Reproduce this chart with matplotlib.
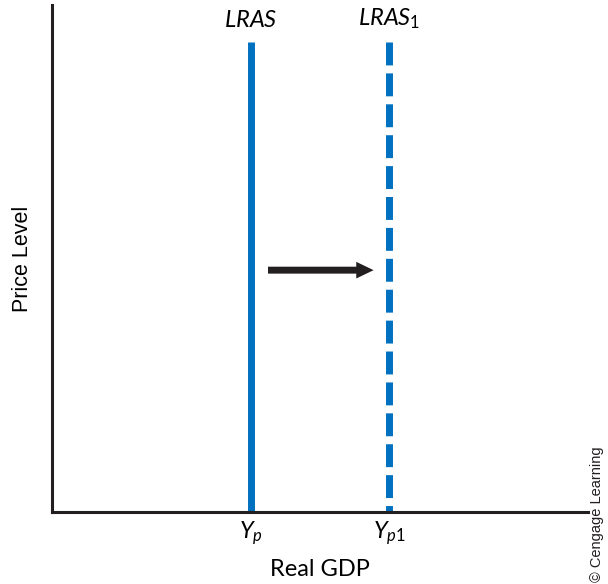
import matplotlib
matplotlib.use("Agg")
import matplotlib.pyplot as plt

# Data
curve_labels = ["LRAS", "LRAS_1"]
curve_x = [3.71, 6.29]          # potential output positions
curve_top = 9.27
tick_labels = [r"$Y_p$", r"$Y_{p\mathrm{1}}$"]
arrow_start = 4.03
arrow_end = 6.0
arrow_y = 4.77

plt.rcParams["mathtext.fontset"] = "custom"
plt.rcParams["mathtext.rm"] = "Lato"
plt.rcParams["mathtext.it"] = "Lato:italic"
plt.rcParams["font.family"] = ["Lato", "DejaVu Sans"]

blue = "#0070C0"
dark = "#231F20"

fig = plt.figure(figsize=(6.08, 5.84), dpi=100)
ax = fig.add_axes([52/608, (584-512)/584, (588-52)/608, (512-5)/584])
ax.set_xlim(0, 10)
ax.set_ylim(0, 10)

for s in ["top", "right"]:
    ax.spines[s].set_visible(False)
for s in ["left", "bottom"]:
    ax.spines[s].set_linewidth(2.2)
    ax.spines[s].set_color(dark)

# solid LRAS
ax.plot([curve_x[0], curve_x[0]], [curve_top, 0], color=blue, lw=5.0,
        solid_capstyle="butt", clip_on=False)
# dashed LRAS1
ax.plot([curve_x[1], curve_x[1]], [curve_top, 0], color=blue, lw=5.0,
        dashes=(3.3, 1.15), dash_capstyle="butt", clip_on=False)

ax.text(curve_x[0], 9.48, r"$LRAS$", ha="center", va="bottom", fontsize=17)
ax.text(curve_x[1], 9.48, r"$LRAS_{\mathrm{1}}$", ha="center", va="bottom", fontsize=17)

ax.annotate("", xy=(arrow_end, arrow_y), xytext=(arrow_start, arrow_y),
            arrowprops=dict(arrowstyle="simple,head_length=1.25,head_width=1.2,tail_width=0.5",
                            mutation_scale=10, color=dark, lw=0, shrinkA=0, shrinkB=0))

ax.set_xticks(curve_x)
ax.set_xticklabels(tick_labels, fontsize=17)
ax.tick_params(axis="x", length=0, pad=5)
ax.set_yticks([])

ax.set_xlabel("Real GDP", fontsize=17, labelpad=9)
ax.set_ylabel("Price Level", fontsize=15.5, family="Liberation Sans", labelpad=14)

fig.text(597/608, 1 - 514/584, "© Cengage Learning", rotation=90, ha="center",
         va="center", fontsize=10.5, family="Liberation Sans", color=dark)

fig.savefig("out.png", dpi=100)
